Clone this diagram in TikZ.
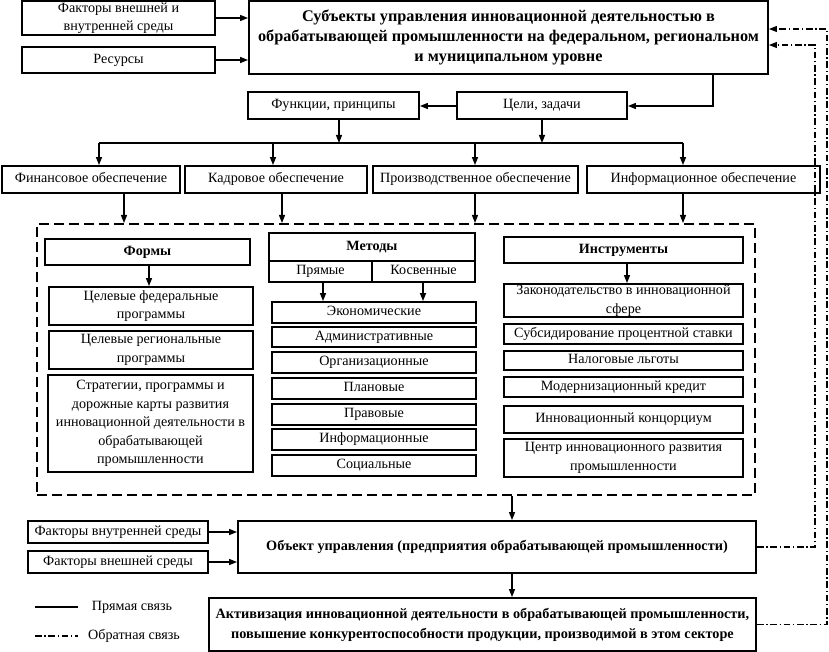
\documentclass[tikz,border=0pt]{standalone}
\usepackage{fontspec}
\setmainfont{Liberation Serif}
\usetikzlibrary{arrows.meta,calc}
\def\mybox#1#2(#3,#4)(#5,#6)#7{\node[#1, minimum width=(#5-#3)*0.75pt, minimum height=(#6-#4)*0.75pt] (#2) at ({(#3+#5)/2},{(#4+#6)/2}) {#7};}
\begin{document}
\begin{tikzpicture}[x=0.75pt,y=-0.75pt,
 mbx/.style={draw,line width=1.4pt,inner sep=0pt,align=center,font=\fontsize{10.6}{13.9}\selectfont},
 bx/.style={mbx,text height=0.7em,text depth=0.22em},
 bbx/.style={bx,font=\bfseries\fontsize{10.6}{13.9}\selectfont},
 tbx/.style={mbx,font=\bfseries\fontsize{12.2}{15}\selectfont},
 obx/.style={mbx,font=\bfseries\fontsize{10.7}{15}\selectfont},
 arr/.style={line width=1pt,-{Triangle[length=6pt,width=4.5pt]}},
 ln/.style={line width=1pt},
 fb/.style={line width=0.8pt,dash pattern=on 5pt off 2pt on 1pt off 2pt},
 fbarr/.style={fb,-{Triangle[length=6pt,width=4.5pt]}},
 dbx/.style={draw,line width=1.5pt,inner sep=0pt,dash pattern=on 7.5pt off 3.75pt},
 lbl/.style={font=\fontsize{10.6}{13.9}\selectfont,inner sep=0pt}
]
\useasboundingbox (0,0) rectangle (829,652);

% top
\mybox{mbx}{f1}(22,1)(215,35){Факторы внешней и\\внутренней среды}
\mybox{bx}{res}(22,47)(215,73){Ресурсы}
\mybox{tbx}{subj}(249,1)(768,74){Субъекты управления инновационной деятельностью в\\обрабатывающей промышленности на федеральном, региональном\\и муниципальном уровне}
\mybox{bx}{func}(248,92)(419,119){Функции, принципы}
\mybox{bx}{goal}(457,92)(627,119){Цели, задачи}

\mybox{bx}{fin}(2,166)(180,193){Финансовое обеспечение}
\mybox{bx}{kadr}(185,166)(367,193){Кадровое обеспечение}
\mybox{bx}{proiz}(373,166)(578,193){Производственное обеспечение}
\mybox{bx}{inf}(587,166)(820,193){Информационное обеспечение}

% dashed container
\mybox{dbx}{dbox}(37,224)(755,495){}

% forms
\mybox{bbx}{formy}(45,239)(250,265){Формы}
\mybox{mbx}{fed}(49,287)(253,325){Целевые федеральные\\программы}
\mybox{mbx}{reg}(49,331)(253,369){Целевые региональные\\программы}
\mybox{mbx}{strat}(48,375)(253,472){Стратегии, программы и\\дорожные карты развития\\инновационной деятельности в\\обрабатывающей\\промышленности}

% methods
\mybox{bbx}{met}(269,233)(475,261){Методы}
\mybox{bx}{pr}(269,261)(372,282){Прямые}
\mybox{bx}{ks}(372,261)(475,282){Косвенные}
\mybox{bx}{m1}(272,302)(476,323){Экономические}
\mybox{bx}{m2}(272,327)(476,347){Административные}
\mybox{bx}{m3}(272,352)(476,373){Организационные}
\mybox{bx}{m4}(272,378)(476,399){Плановые}
\mybox{bx}{m5}(272,404)(476,425){Правовые}
\mybox{bx}{m6}(272,429)(476,450){Информационные}
\mybox{bx}{m7}(272,455)(476,476){Социальные}

% instruments
\mybox{bbx}{ins}(504,237)(743,263){Инструменты}
\mybox{mbx}{i1}(504,284)(743,317){Законодательство в инновационной\\сфере}
\mybox{bx}{i2}(504,324)(743,344){Субсидирование процентной ставки}
\mybox{bx}{i3}(504,351)(743,370){Налоговые льготы}
\mybox{bx}{i4}(504,377)(743,397){Модернизационный кредит}
\mybox{bx}{i5}(504,406)(743,433){Инновационный концорциум}
\mybox{mbx}{i6}(504,439)(743,477){Центр инновационного развития\\промышленности}

% bottom
\mybox{bx}{fvn}(28,521)(208,543){Факторы внутренней среды}
\mybox{bx}{fvs}(28,551)(208,573){Факторы внешней среды}
\mybox{obx}{obj}(238,521)(756,573){Объект управления (предприятия обрабатывающей промышленности)}
\mybox{obx}{akt}(209,598)(756,651){Активизация инновационной деятельности в обрабатывающей промышленности,\\повышение конкурентоспособности продукции, производимой в этом секторе}

% legend
\coordinate (la1) at (35,607);
\coordinate (lb1) at (78,607);
\coordinate (la2) at (35,636);
\coordinate (lb2) at (78,636);
\draw[ln] (la1) -- (lb1);
\draw[fb] (la2) -- (lb2);
\node[lbl] (lt1) at (132,607) {Прямая связь};
\node[lbl] (lt2) at (134,636) {Обратная связь};

% connectors top
\draw[arr] (f1.east) -- (subj.west |- f1.east);
\draw[arr] (res.east) -- (subj.west |- res.east);
\draw[arr] (713,0 |- subj.south) -- (713,106) -- (goal.east |- 0,106);
\draw[arr] (goal.west |- 0,106) -- (func.east |- 0,106);
\draw[arr] (339,0 |- func.south) -- (339,143);
\draw[arr] (goal.south) -- (goal.south |- 0,143);
\draw[ln] (99,143) -- (683,143);
\draw[arr] (99,143) -- (99,0 |- fin.north);
\draw[arr] (273,143) -- (273,0 |- kadr.north);
\draw[arr] (475,143) -- (475,0 |- proiz.north);
\draw[arr] (683,143) -- (683,0 |- inf.north);

\draw[arr] (124,0 |- fin.south) -- (124,0 |- dbox.north);
\draw[arr] (282,0 |- kadr.south) -- (282,0 |- dbox.north);
\draw[arr] (475,0 |- proiz.south) -- (475,0 |- dbox.north);
\draw[arr] (683,0 |- inf.south) -- (683,0 |- dbox.north);

% inner arrows
\draw[arr] (149,0 |- formy.south) -- (149,0 |- fed.north);
\draw[arr] (323,0 |- pr.south) -- (323,0 |- m1.north);
\draw[arr] (423,0 |- ks.south) -- (423,0 |- m1.north);
\draw[arr] (627,0 |- ins.south) -- (627,0 |- i1.north);

% bottom
\draw[arr] (512,0 |- dbox.south) -- (512,0 |- obj.north);
\draw[arr] (512,0 |- obj.south) -- (512,0 |- akt.north);
\draw[arr] (fvn.east) -- (obj.west |- fvn.east);
\draw[arr] (fvs.east) -- (obj.west |- fvs.east);

% feedback
\draw[fbarr] (obj.east) -- (815,0 |- obj.east) -- (815,45) -- (subj.east |- 0,45);
\draw[fbarr] (akt.east) -- (827,0 |- akt.east) -- (827,29) -- (subj.east |- 0,29);
\end{tikzpicture}
\end{document}
